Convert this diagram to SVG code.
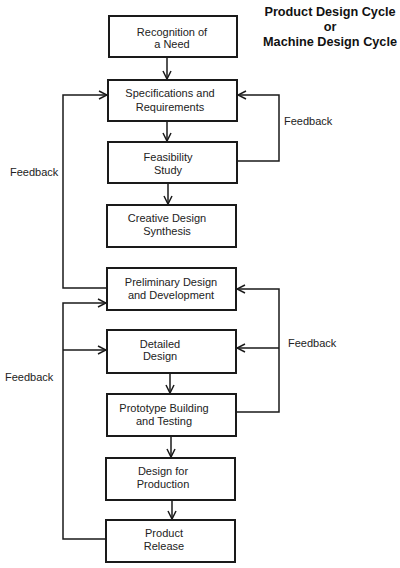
<svg xmlns="http://www.w3.org/2000/svg" width="400" height="568" viewBox="0 0 400 568">
<defs>
<style>
.box{fill:#fff;stroke:#1a1a1a;stroke-width:2}
.t{font-family:"Liberation Sans",Arial,sans-serif;font-size:11px;fill:#222;text-anchor:middle}
.lbl{font-family:"Liberation Sans",Arial,sans-serif;font-size:11px;fill:#222}
.title{font-family:"Liberation Sans",Arial,sans-serif;font-size:12.7px;font-weight:bold;fill:#111;text-anchor:middle}
.c{fill:none;stroke:#1a1a1a;stroke-width:1.5}
</style>
<marker id="ah" viewBox="0 0 10 10" refX="9" refY="5" markerWidth="10" markerHeight="10" markerUnits="userSpaceOnUse" orient="auto">
<polyline points="1,1 9,5 1,9" fill="none" stroke="#1a1a1a" stroke-width="1.5"/>
</marker>
</defs>
<rect width="400" height="568" fill="#fff"/>
<g id="title">
<text class="title" x="330" y="16">Product Design Cycle</text>
<text class="title" x="330" y="31">or</text>
<text class="title" x="330" y="46">Machine Design Cycle</text>
</g>
<g id="connectors">
<line class="c" x1="167" y1="57" x2="167" y2="79" marker-end="url(#ah)"/>
<line class="c" x1="167" y1="121" x2="167" y2="141" marker-end="url(#ah)"/>
<line class="c" x1="168" y1="183" x2="168" y2="204" marker-end="url(#ah)"/>
<line class="c" x1="170" y1="373" x2="170" y2="393" marker-end="url(#ah)"/>
<line class="c" x1="171" y1="436" x2="171" y2="457" marker-end="url(#ah)"/>
<line class="c" x1="172" y1="500" x2="172" y2="519" marker-end="url(#ah)"/>
<polyline class="c" points="107,288 63,288 63,95 107,95" marker-end="url(#ah)"/>
<polyline class="c" points="237,161 279,161 279,95 238,95" marker-end="url(#ah)"/>
<polyline class="c" points="236,412 279,412 279,289 237,289" marker-end="url(#ah)"/>
<line class="c" x1="279" y1="348" x2="237" y2="348" marker-end="url(#ah)"/>
<polyline class="c" points="106,539 63,539 63,303 106,303" marker-end="url(#ah)"/>
<line class="c" x1="63" y1="350" x2="106" y2="350" marker-end="url(#ah)"/>
<text class="lbl" x="284" y="125">Feedback</text>
<text class="lbl" x="10" y="176">Feedback</text>
<text class="lbl" x="288" y="347">Feedback</text>
<text class="lbl" x="5" y="381">Feedback</text>
</g>
<g id="n1"><rect class="box" x="109" y="16" width="128" height="41"/><text class="t" x="172" y="36">Recognition of</text><text class="t" x="172" y="48">a Need</text></g>
<g id="n2"><rect class="box" x="108" y="80" width="129" height="41"/><text class="t" x="170" y="97">Specifications and</text><text class="t" x="170" y="111">Requirements</text></g>
<g id="n3"><rect class="box" x="108" y="142" width="129" height="41"/><text class="t" x="168" y="161">Feasibility</text><text class="t" x="168" y="174">Study</text></g>
<g id="n4"><rect class="box" x="107" y="205" width="129" height="42"/><text class="t" x="167" y="222">Creative Design</text><text class="t" x="167" y="235">Synthesis</text></g>
<g id="n5"><rect class="box" x="107" y="268" width="129" height="42"/><text class="t" x="171" y="286">Preliminary Design</text><text class="t" x="171" y="299">and Development</text></g>
<g id="n6"><rect class="box" x="107" y="330" width="129" height="43"/><text class="t" x="160" y="348">Detailed</text><text class="t" x="160" y="360">Design</text></g>
<g id="n7"><rect class="box" x="107" y="394" width="129" height="42"/><text class="t" x="164" y="412">Prototype Building</text><text class="t" x="164" y="425">and Testing</text></g>
<g id="n8"><rect class="box" x="106" y="458" width="129" height="42"/><text class="t" x="163" y="475">Design for</text><text class="t" x="163" y="488">Production</text></g>
<g id="n9"><rect class="box" x="106" y="520" width="129" height="42"/><text class="t" x="164" y="537">Product</text><text class="t" x="164" y="550">Release</text></g>
</svg>
